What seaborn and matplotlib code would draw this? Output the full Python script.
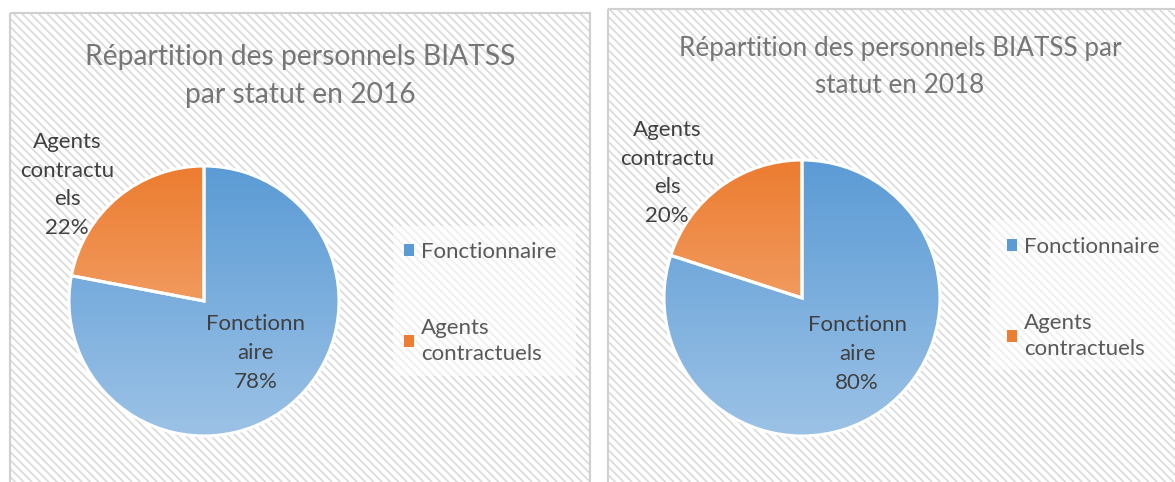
import numpy as np
import matplotlib
matplotlib.use("Agg")
import matplotlib.pyplot as plt
from matplotlib.patches import Rectangle, Patch
from matplotlib.colors import LinearSegmentedColormap
import seaborn as sns

# ---- data ----
categories = ["Fonctionnaire", "Agents contractuels"]
years = ["2016", "2018"]
values_2016 = [78, 22]
values_2018 = [80, 20]
titles = ["Répartition des personnels BIATSS\npar statut en 2016",
          "Répartition des personnels BIATSS par\nstatut en 2018"]
inner_labels = ["Fonctionn\naire", "Fonctionn\naire"]
outer_labels = ["Agents\ncontractu\nels", "Agents\ncontractu\nels"]
legend_labels = ["Fonctionnaire", "Agents\ncontractuels"]

sns.set_theme(style="white")
plt.rcParams["font.family"] = ["Lato", "DejaVu Sans"]
plt.rcParams["hatch.color"] = "#dcdcdc"
plt.rcParams["hatch.linewidth"] = 1.3

W, H = 1175, 482
fig = plt.figure(figsize=(W / 100, H / 100), dpi=100)
bg = fig.add_axes([0, 0, 1, 1])
bg.set_xlim(0, W)
bg.set_ylim(H, 0)
bg.axis("off")

panels = [
    dict(x0=10, y0=13, x1=590, y1=490, cx=204, cy=301, r=135,
         title_xy=(300, 76), title_fs=20.3,
         outer_xy=(67, 185), inner_xy=(256, 353),
         leg=(393, 226, 183, 150), leg_anchor=(384, 222)),
    dict(x0=608, y0=9, x1=1180, y1=490, cx=802, cy=298, r=138,
         title_xy=(900, 67), title_fs=18.8,
         outer_xy=(667, 173), inner_xy=(857, 354),
         leg=(990, 220, 185, 150), leg_anchor=(987, 217)),
]
datasets = [values_2016, values_2018]

blue_cmap = LinearSegmentedColormap.from_list("b", ["#9cc2e6", "#5b9bd5"])
orange_cmap = LinearSegmentedColormap.from_list("o", ["#f6b88c", "#ec7c30"])
cmaps = [blue_cmap, orange_cmap]
legend_colors = ["#5b9bd5", "#ed7d31"]

overlay_texts = []
for p, vals, title, il, ol in zip(panels, datasets, titles, inner_labels, outer_labels):
    rect = Rectangle((p["x0"], p["y0"]), p["x1"] - p["x0"], p["y1"] - p["y0"],
                     facecolor="white", edgecolor="#dcdcdc", hatch="\\\\\\\\",
                     linewidth=0, zorder=0)
    bg.add_patch(rect)
    border = Rectangle((p["x0"], p["y0"]), p["x1"] - p["x0"], p["y1"] - p["y0"],
                       facecolor="none", edgecolor="#d0d0d0", linewidth=1.5, zorder=1)
    bg.add_patch(border)
    bg.text(p["title_xy"][0], p["title_xy"][1], title, ha="center", va="center",
            fontsize=p["title_fs"], color="#767676", linespacing=1.6, zorder=3)

    lx, ly, lw, lh = p["leg"]
    bg.add_patch(Rectangle((lx, ly), lw, lh, facecolor="white", alpha=0.55,
                           edgecolor="none", zorder=2))

    cx, cy, r = p["cx"], p["cy"], p["r"] * 1.02
    ax = fig.add_axes([(cx - r) / W, (H - cy - r) / H, 2 * r / W, 2 * r / H])
    ax.set_zorder(2)
    wedges, _ = ax.pie(vals, startangle=90, counterclock=False, radius=1,
                       wedgeprops=dict(linewidth=0, edgecolor="none"))
    ax.set_xlim(-1.02, 1.02)
    ax.set_ylim(-1.02, 1.02)
    ax.set_aspect("equal")
    ax.axis("off")
    grad = np.linspace(0, 1, 256).reshape(-1, 1)
    for w, cm in zip(wedges, cmaps):
        w.set_facecolor("none")
        im = ax.imshow(grad, extent=[-1, 1, -1, 1], origin="lower", cmap=cm,
                       aspect="auto", zorder=1)
        im.set_clip_path(w)
        w.set_edgecolor("white")
        w.set_linewidth(2.2)
        w.set_zorder(2)

    total = sum(vals)
    overlay_texts.append((p["inner_xy"], f"{il}\n{round(100 * vals[0] / total)}%"))
    overlay_texts.append((p["outer_xy"], f"{ol}\n{round(100 * vals[1] / total)}%"))

    handles = [Patch(facecolor=c, edgecolor="none") for c in legend_colors]
    ax_, ay_ = p["leg_anchor"]
    leg = fig.legend(handles, legend_labels, loc="upper left",
                     bbox_to_anchor=(ax_ / W, 1 - ay_ / H),
                     frameon=False, handlelength=0.45, handleheight=0.45,
                     handletextpad=0.3, labelspacing=2.5, fontsize=16,
                     labelcolor="#595959")
    for t in leg.get_texts():
        t.set_linespacing(1.38)

top = fig.add_axes([0, 0, 1, 1])
top.set_zorder(10)
top.patch.set_alpha(0)
top.set_xlim(0, W)
top.set_ylim(H, 0)
top.axis("off")
for (x, y), s in overlay_texts:
    top.text(x, y, s, ha="center", va="center", fontsize=16,
             color="#404040", linespacing=1.55)

fig.savefig("out.png", dpi=100)
